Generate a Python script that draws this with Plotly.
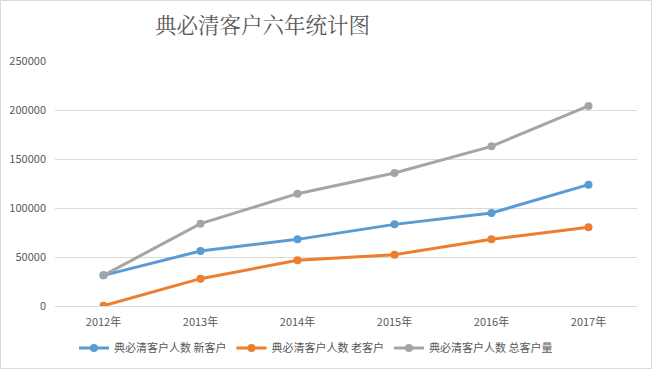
import plotly.graph_objects as go

years = ["2012年", "2013年", "2014年", "2015年", "2016年", "2017年"]
new_customers = [31300, 56100, 68000, 83300, 94900, 123800]
old_customers = [300, 27900, 46600, 52400, 68000, 80300]
total_customers = [31300, 84000, 114600, 135700, 162900, 204100]
series_names = ["典必清客户人数 新客户", "典必清客户人数 老客户", "典必清客户人数 总客户量"]
y_ticks = [0, 50000, 100000, 150000, 200000, 250000]

W, H = 653, 370
ml, mr, mt, mb = 55, 16, 61, 64
colors = ["#5B9BD5", "#ED7D31", "#A5A5A5"]

fig = go.Figure()
for vals, name, c in zip([new_customers, old_customers, total_customers], series_names, colors):
    fig.add_trace(go.Scatter(x=years, y=vals, name=name, mode="lines+markers",
                             line=dict(color=c, width=3),
                             marker=dict(color=c, size=8)))

pw = W - ml - mr
ph = H - mt - mb
fig.add_shape(type="rect", xref="paper", yref="paper",
              x0=-ml / pw + 0.5 / pw, x1=1 + (mr - 1.5) / pw,
              y0=-(mb - 1.5) / ph, y1=1 + (mt - 0.5) / ph,
              line=dict(color="#D9D9D9", width=1), fillcolor="rgba(0,0,0,0)", layer="below")

fig.update_layout(
    width=W, height=H,
    margin=dict(l=ml, r=mr, t=mt, b=mb, autoexpand=False),
    paper_bgcolor="white", plot_bgcolor="white",
    title=dict(text="典必清客户六年统计图", xref="container", x=155 / W, xanchor="left",
               yref="container", y=1 - 25 / H, yanchor="middle",
               font=dict(family="Noto Serif CJK SC, Noto Sans CJK SC, serif", size=21.5, color="#595959")),
    font=dict(family="Noto Sans CJK SC, sans-serif", size=12, color="#595959"),
    xaxis=dict(type="category", showgrid=False, showline=False, zeroline=False, ticks="",
               automargin=False, ticklabelstandoff=8,
               tickfont=dict(size=11, color="#595959"), range=[-0.5, 5.5]),
    yaxis=dict(range=[0, 250000], tickvals=y_ticks, ticktext=[str(v) for v in y_ticks],
               automargin=False,
               showgrid=True, gridcolor="#D9D9D9", gridwidth=1, zeroline=True,
               zerolinecolor="#D9D9D9", zerolinewidth=1, showline=False, ticks="",
               tickfont=dict(size=11, color="#595959"), ticklabelstandoff=8),
    legend=dict(orientation="h", xref="container", x=74 / W, xanchor="left",
                yref="container", y=1 - 348 / H, yanchor="middle",
                font=dict(size=11, color="#595959"), itemwidth=30, tracegroupgap=0),
    showlegend=True,
)

fig.write_html("out.html", config={"displayModeBar": False},
               post_script="document.body.style.margin='0';document.body.style.overflow='hidden';")
